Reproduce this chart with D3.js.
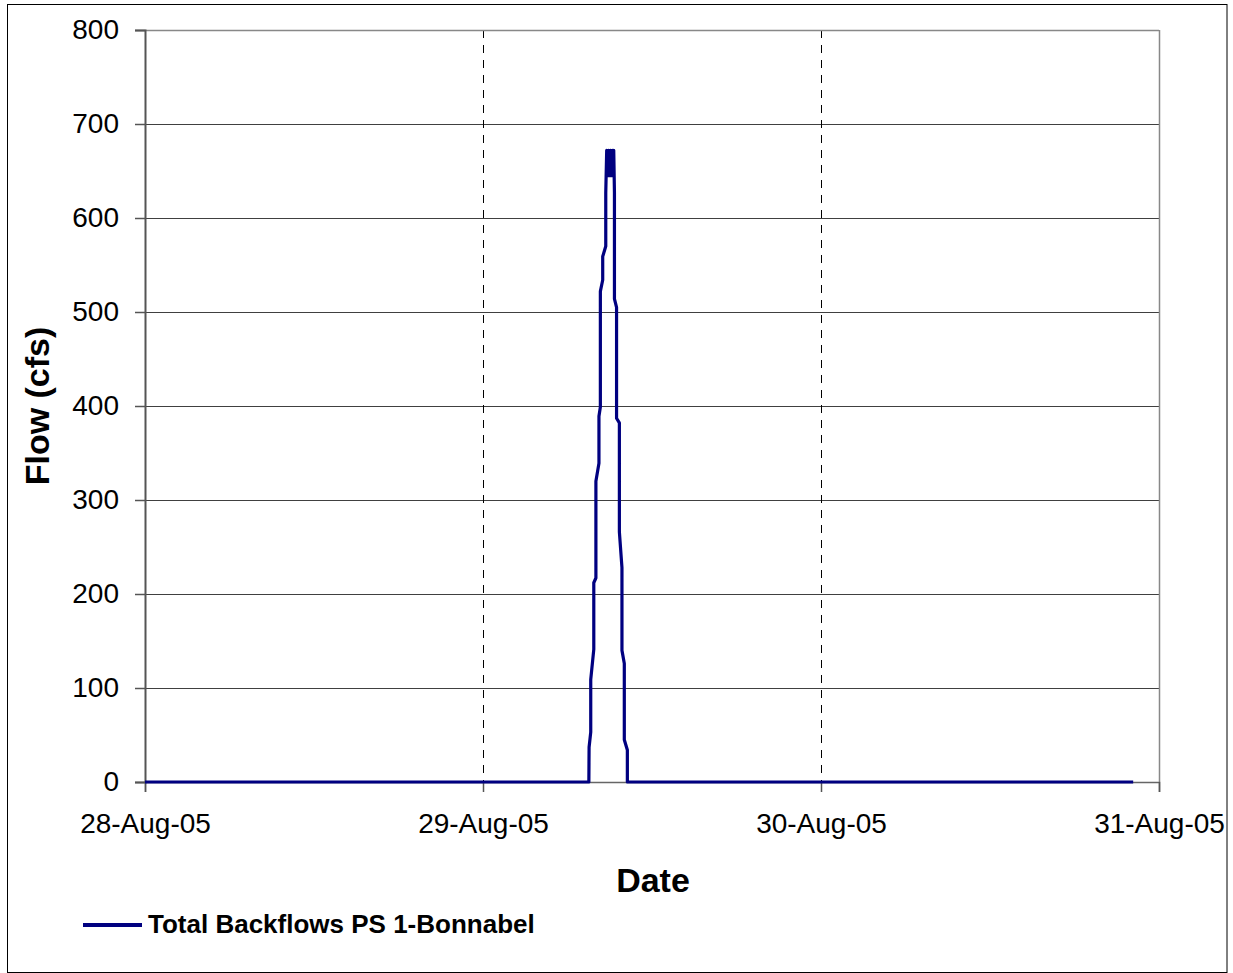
<!DOCTYPE html>
<html>
<head>
<meta charset="utf-8">
<script src="https://cdn.jsdelivr.net/npm/d3@7"></script>
<style>
  html, body { margin: 0; padding: 0; background: #fff; }
  svg { display: block; }
  text { font-family: "Liberation Sans", Arial, sans-serif; }
</style>
</head>
<body>
<svg id="chart" width="1233" height="973"></svg>
<script>
// ---- data ----
const times = [
  "2005-08-28 00:00", "2005-08-29 07:31", "2005-08-29 07:32", "2005-08-29 07:39",
  "2005-08-29 07:39", "2005-08-29 07:52", "2005-08-29 07:52", "2005-08-29 08:01",
  "2005-08-29 08:01", "2005-08-29 08:14", "2005-08-29 08:14", "2005-08-29 08:20",
  "2005-08-29 08:20", "2005-08-29 08:30", "2005-08-29 08:30", "2005-08-29 08:43",
  "2005-08-29 08:43", "2005-08-29 08:47", "2005-08-29 08:51", "2005-08-29 08:55",
  "2005-08-29 08:59", "2005-08-29 09:03", "2005-08-29 09:07", "2005-08-29 09:11",
  "2005-08-29 09:14", "2005-08-29 09:17", "2005-08-29 09:20", "2005-08-29 09:20",
  "2005-08-29 09:29", "2005-08-29 09:29", "2005-08-29 09:41", "2005-08-29 09:41",
  "2005-08-29 09:52", "2005-08-29 09:52", "2005-08-29 10:02", "2005-08-29 10:02",
  "2005-08-29 10:15", "2005-08-29 10:15", "2005-08-30 22:10"
];
const flows = [
  0, 0, 37, 53,
  109, 141, 212, 217,
  320, 339, 389, 399,
  522, 534, 559, 570,
  627, 672, 645, 672,
  645, 672, 645, 672,
  645, 672, 627, 514,
  505, 387, 382, 266,
  228, 140, 126, 45,
  34, 0, 0
];
const yTicks = [0, 100, 200, 300, 400, 500, 600, 700, 800];
const xTickDates = ["2005-08-28", "2005-08-29", "2005-08-30", "2005-08-31"];
const seriesName = "Total Backflows PS 1-Bonnabel";
const xTitle = "Date";
const yTitle = "Flow (cfs)";

// ---- drawing ----
const parseT = d3.timeParse("%Y-%m-%d %H:%M");
const parseD = d3.timeParse("%Y-%m-%d");
const data = times.map((t, i) => ({ t: parseT(t), v: flows[i] }));
const xTicks = xTickDates.map(parseD);

const svg = d3.select("#chart");
const L = 145, R = 1159, T = 30, B = 782;

const x = d3.scaleTime().domain([xTicks[0], xTicks[xTicks.length - 1]]).range([L, R]);
const y = d3.scaleLinear().domain([0, 800]).range([B, T]);

// outer chart border
svg.append("rect").attr("x", 7.5).attr("y", 4.5).attr("width", 1219.5).attr("height", 968)
  .attr("fill", "#fff").attr("stroke", "#000").attr("stroke-width", 1);

// horizontal gridlines
svg.append("g").selectAll("line").data(yTicks.filter(d => d > 0 && d < 800)).join("line")
  .attr("x1", L).attr("x2", R)
  .attr("y1", d => Math.round(y(d)) + 0.5).attr("y2", d => Math.round(y(d)) + 0.5)
  .attr("stroke", "#404040").attr("stroke-width", 1);

// vertical dashed gridlines
svg.append("g").selectAll("line").data(xTicks.slice(1, -1)).join("line")
  .attr("x1", d => Math.round(x(d)) + 0.5).attr("x2", d => Math.round(x(d)) + 0.5)
  .attr("y1", T).attr("y2", B)
  .attr("stroke", "#000").attr("stroke-width", 1).attr("stroke-dasharray", "8,7");

// plot frame top & right
svg.append("line").attr("x1", L).attr("x2", R).attr("y1", T + 0.5).attr("y2", T + 0.5)
  .attr("stroke", "#888").attr("stroke-width", 1.5);
svg.append("line").attr("x1", R + 0.5).attr("x2", R + 0.5).attr("y1", T).attr("y2", B)
  .attr("stroke", "#888").attr("stroke-width", 1.5);

const fontStack = "'Liberation Sans', Arial, sans-serif";

// y axis
const yAxis = svg.append("g").attr("transform", `translate(${L},0)`)
  .call(d3.axisLeft(y).tickValues(yTicks).tickSize(10).tickPadding(16).tickFormat(d3.format("d")));
yAxis.select(".domain").attr("stroke", "#555").attr("stroke-width", 2);
yAxis.selectAll(".tick line").attr("stroke", "#555").attr("stroke-width", 1.5);
yAxis.selectAll(".tick text").attr("font-size", 28).attr("fill", "#000").attr("font-family", fontStack);

// x axis
const xAxis = svg.append("g").attr("transform", `translate(0,${B})`)
  .call(d3.axisBottom(x).tickValues(xTicks).tickSize(10).tickPadding(21)
    .tickFormat(d3.timeFormat("%d-%b-%y")));
xAxis.select(".domain").attr("stroke", "#666").attr("stroke-width", 1.5);
xAxis.selectAll(".tick line").attr("stroke", "#555").attr("stroke-width", 1.5);
xAxis.selectAll(".tick text").attr("font-size", 28).attr("fill", "#000").attr("font-family", fontStack);

// series line
const line = d3.line().x(d => x(d.t)).y(d => y(d.v));
svg.append("path").datum(data).attr("d", line)
  .attr("fill", "none").attr("stroke", "#000080").attr("stroke-width", 3.2)
  .attr("stroke-linejoin", "round");

// axis titles
svg.append("text").attr("x", 653).attr("y", 892).attr("text-anchor", "middle")
  .attr("font-size", 34).attr("font-weight", "bold").text(xTitle);
svg.append("text").attr("transform", `translate(49,${(T + B) / 2}) rotate(-90)`)
  .attr("text-anchor", "middle").attr("font-size", 34).attr("font-weight", "bold").text(yTitle);

// legend
svg.append("line").attr("x1", 83).attr("x2", 142).attr("y1", 925).attr("y2", 925)
  .attr("stroke", "#000080").attr("stroke-width", 4);
svg.append("text").attr("x", 148).attr("y", 933).attr("font-size", 26)
  .attr("font-weight", "bold").text(seriesName);
</script>
</body>
</html>
